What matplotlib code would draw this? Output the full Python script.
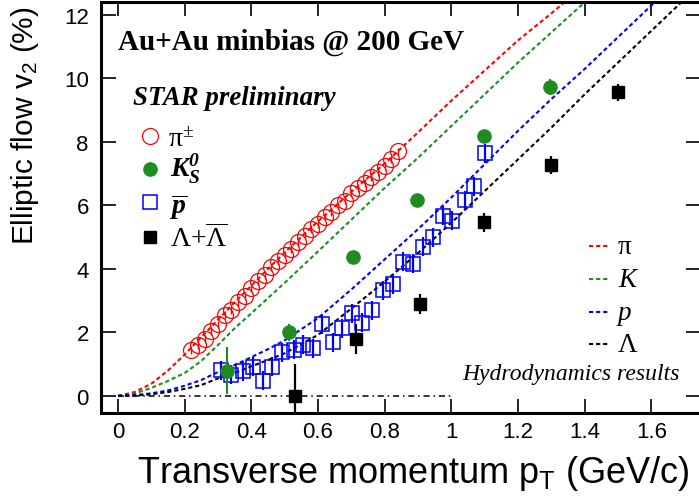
import matplotlib
matplotlib.use("Agg")
import matplotlib.pyplot as plt
from matplotlib.lines import Line2D

# ---------------- data ----------------
pion_pt = [0.22, 0.24, 0.26, 0.28, 0.30, 0.32, 0.34, 0.36, 0.38, 0.40, 0.42, 0.44, 0.46, 0.48, 0.50, 0.52,
           0.54, 0.56, 0.58, 0.60, 0.62, 0.64, 0.66, 0.68, 0.70, 0.72, 0.74, 0.76, 0.78, 0.80, 0.82, 0.84]
pion_v2 = [1.45, 1.60, 1.80, 2.05, 2.25, 2.55, 2.70, 2.95, 3.15, 3.40, 3.62, 3.80, 4.05, 4.25, 4.45, 4.62,
           4.85, 5.05, 5.25, 5.40, 5.62, 5.80, 6.00, 6.15, 6.40, 6.55, 6.70, 6.90, 7.05, 7.25, 7.45, 7.70]
pion_err = [0.12] * len(pion_pt)

kaon_pt = [0.326, 0.513, 0.704, 0.897, 1.099, 1.296]
kaon_v2 = [0.79, 2.00, 4.38, 6.18, 8.18, 9.74]
kaon_err = [0.74, 0.28, 0.20, 0.15, 0.20, 0.25]

pbar_pt = [0.310, 0.340, 0.375, 0.405, 0.435, 0.463, 0.493, 0.528, 0.555, 0.585, 0.613, 0.645, 0.672, 0.702,
           0.733, 0.762, 0.794, 0.824, 0.856, 0.884, 0.914, 0.944, 0.974, 1.001, 1.041, 1.069, 1.101]
pbar_v2 = [0.80, 0.66, 0.78, 0.92, 0.48, 0.92, 1.37, 1.46, 1.61, 1.50, 2.25, 1.69, 2.13, 2.61,
           2.30, 2.69, 3.32, 3.52, 4.23, 4.16, 4.70, 5.00, 5.68, 5.52, 6.17, 6.60, 7.65]
pbar_err = [0.30] * len(pbar_pt)

lam_pt = [0.530, 0.714, 0.905, 1.099, 1.298, 1.500]
lam_v2 = [0.00, 1.80, 2.90, 5.47, 7.27, 9.56]
lam_err = [1.00, 0.47, 0.31, 0.30, 0.28, 0.28]

hydro_pt = [0.0, 0.05, 0.1, 0.15, 0.2, 0.25, 0.3, 0.35, 0.4, 0.45, 0.5, 0.6, 0.7, 0.8, 0.9,
            1.0, 1.1, 1.2, 1.3, 1.4, 1.5, 1.6, 1.7, 1.8]
hydro_pi = [0.0, 0.12, 0.38, 0.80, 1.30, 1.85, 2.40, 2.95, 3.47, 4.00, 4.52, 5.50, 6.43, 7.32, 8.30,
            9.30, 10.25, 11.20, 12.05, 12.95, 13.90, 14.80, 15.70, 16.60]
hydro_k = [0.0, 0.07, 0.25, 0.47, 0.72, 1.10, 1.60, 2.13, 2.60, 3.08, 3.56, 4.55, 5.55, 6.55, 7.50,
           8.50, 9.50, 10.50, 11.45, 12.40, 13.35, 14.30, 15.30, 16.30]
hydro_p = [0.0, 0.02, 0.08, 0.17, 0.32, 0.50, 0.75, 0.97, 1.22, 1.47, 1.75, 2.45, 3.35, 4.30, 5.25,
           6.25, 7.30, 8.35, 9.35, 10.30, 11.30, 12.30, 13.30, 14.30]
hydro_lam = [0.0, 0.01, 0.05, 0.12, 0.22, 0.34, 0.55, 0.72, 0.93, 1.13, 1.34, 1.92, 2.75, 3.60, 4.50,
             5.45, 6.45, 7.45, 8.45, 9.50, 10.50, 11.50, 12.50, 13.50]

zero_line_x = [0.0, 1.0]
zero_line_y = [0.0, 0.0]

xticks = [0, 0.2, 0.4, 0.6, 0.8, 1.0, 1.2, 1.4, 1.6]
xticklabels = ["0", "0.2", "0.4", "0.6", "0.8", "1", "1.2", "1.4", "1.6"]
yticks = [0, 2, 4, 6, 8, 10, 12]
yticklabels = ["0", "2", "4", "6", "8", "10", "12"]

# ---------------- figure ----------------
W, H = 699, 502
fig = plt.figure(figsize=(W / 100, H / 100), dpi=100)

def fx(x):
    return x / W

def fy(y):
    return 1 - y / H

ax = fig.add_axes([fx(101.3), fy(414), 600 / W, 411 / H])
ax.set_xlim(-0.05, 1.75)
ax.set_ylim(-0.54, 12.41)

RED, GREEN, BLUE, BLACK = "#ff0000", "#1e8c1e", "#0000ff", "#000000"
dash = (0, (2.0, 1.4))
LW = 1.5

ax.plot(zero_line_x, zero_line_y, color="black", lw=1.1, ls=(0, (4, 2.5, 1, 2.5)), zorder=1)

for yv, c in [(hydro_pi, RED), (hydro_k, GREEN), (hydro_p, BLUE), (hydro_lam, BLACK)]:
    ax.plot(hydro_pt, yv, color=c, lw=LW, ls=dash, zorder=2)

ax.errorbar(pion_pt, pion_v2, yerr=pion_err, fmt="o", ms=11.5, mfc="none", mec=RED, mew=0.9,
            ecolor=RED, elinewidth=1.0, capsize=0, zorder=3)
ax.errorbar(pbar_pt, pbar_v2, yerr=pbar_err, fmt="s", ms=9.5, mfc="none", mec=BLUE, mew=1.1,
            ecolor=BLUE, elinewidth=1.6, capsize=0, zorder=3)
ax.errorbar(kaon_pt, kaon_v2, yerr=kaon_err, fmt="o", ms=9.5, mfc=GREEN, mec=GREEN,
            ecolor=GREEN, elinewidth=1.5, capsize=0, zorder=4)
ax.errorbar(lam_pt, lam_v2, yerr=lam_err, fmt="s", ms=9, mfc=BLACK, mec=BLACK,
            ecolor=BLACK, elinewidth=1.6, capsize=0, zorder=4)

for s in ax.spines.values():
    s.set_linewidth(2.2)
ax.set_xticks(xticks)
ax.set_xticklabels(xticklabels)
ax.set_yticks(yticks)
ax.set_yticklabels(yticklabels)
ax.tick_params(axis="x", direction="in", top=True, length=10, width=1.2, pad=6)
ax.tick_params(axis="y", direction="in", right=True, length=11, width=1.2, pad=9)
for lab in ax.get_xticklabels() + ax.get_yticklabels():
    lab.set_family("Liberation Sans")
    lab.set_fontsize(16)

SANS = "Liberation Sans"
SERIF = "Liberation Serif"

fig.text(fx(25), fy(6), r"Elliptic flow v$\mathregular{_2}$ (%)", rotation=90, ha="center", va="top",
         family=SANS, fontsize=21.5)
fig.text(fx(690), fy(483), r"Transverse momentum p$\mathregular{_T}$ (GeV/c)", ha="right", va="baseline",
         family=SANS, fontsize=26)

fig.text(fx(118), fy(50), "Au+Au minbias @ 200 GeV", family=SERIF, weight="bold", fontsize=21,
         va="baseline")
fig.text(fx(133), fy(105), "STAR preliminary", family=SERIF, weight="bold", style="italic",
         fontsize=19.4, va="baseline")

# left legend (markers)
mk = dict(transform=fig.transFigure, clip_on=False, ls="none")
fig.add_artist(Line2D([fx(150)], [fy(137)], marker="o", ms=11.5, mfc="none", mec=RED, mew=0.9, **mk))
fig.add_artist(Line2D([fx(150)], [fy(170)], marker="o", ms=9.5, mfc=GREEN, mec=GREEN, **mk))
fig.add_artist(Line2D([fx(150)], [fy(203)], marker="s", ms=9.5, mfc="none", mec=BLUE, mew=1.1, **mk))
fig.add_artist(Line2D([fx(150)], [fy(238)], marker="s", ms=9, mfc=BLACK, mec=BLACK, **mk))

fig.text(fx(168), fy(147), r"π$\mathregular{^{±}}$", family=SERIF, fontsize=20, va="baseline")
fig.text(fx(170), fy(177), r"K$\mathregular{^{0}_{S}}$", family=SERIF, weight="bold", style="italic",
         fontsize=20, va="baseline")
fig.text(fx(170), fy(214), r"$\mathregular{\overline{p}}$", family=SERIF, weight="bold", style="italic",
         fontsize=20, va="baseline")
fig.text(fx(170), fy(247), r"Λ+$\mathregular{\overline{Λ}}$", family=SERIF, fontsize=20, va="baseline")

# right legend (hydro)
for yy, c, lab, st in [(247, RED, "π", "normal"), (280, GREEN, "K", "italic"),
                       (313, BLUE, "p", "italic"), (345, BLACK, "Λ", "normal")]:
    fig.add_artist(Line2D([fx(589), fx(609)], [fy(yy), fy(yy)], color=c, lw=LW, ls=dash,
                          transform=fig.transFigure))
    fig.text(fx(618), fy(yy + 7), lab, family=SERIF, style=st, fontsize=19.5, va="baseline")
fig.text(fx(462), fy(380), "Hydrodynamics results", family=SERIF, style="italic", fontsize=17,
         va="baseline")

fig.savefig("out.png", dpi=100)
